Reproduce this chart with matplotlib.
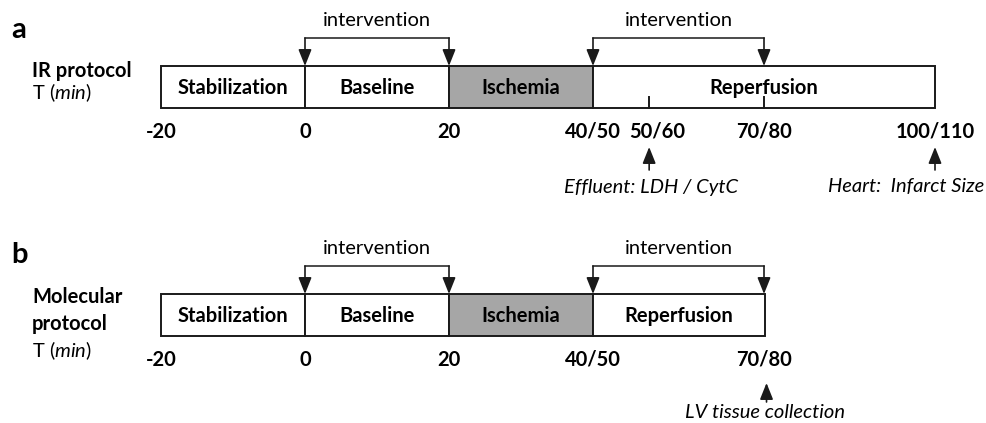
import matplotlib
matplotlib.use("Agg")
import matplotlib.pyplot as plt
from matplotlib.patches import Rectangle

# ------------------- dados do esquema (tempo em min, eixo esquemático) -------------------
segmentos = ["Stabilization", "Baseline", "Ischemia", "Reperfusion"]

a_limites = [-20, 0, 20, 40, 87.5]
a_ticks = [-20, 0, 20, 40, 47.8, 63.75, 87.5]
a_tick_labels = ["-20", "0", "20", "40/50", "50/60", "70/80", "100/110"]
a_marcas = [47.8, 63.75]
a_intervencoes = [(0, 20), (40, 63.75)]
a_coletas = [47.8, 87.5]
a_coleta_labels = ["Effluent: LDH / CytC", "Heart:  Infarct Size"]

b_limites = [-20, 0, 20, 40, 63.9]
b_ticks = [-20, 0, 20, 40, 63.75]
b_tick_labels = ["-20", "0", "20", "40/50", "70/80"]
b_intervencoes = [(0, 20), (40, 63.75)]
b_coletas = [64.1]
b_coleta_labels = ["LV tissue collection"]
# ------------------------------------------------------------------------------------------

FONTE = ["Lato", "Open Sans", "DejaVu Sans"]
plt.rcParams["font.family"] = FONTE
plt.rcParams["mathtext.fontset"] = "custom"
plt.rcParams["mathtext.rm"] = "Lato"
plt.rcParams["mathtext.it"] = "Lato:italic"

COR_LINHA = "#1a1a1a"
COR_ISQ = "#a6a6a6"
FS = 14.5

fig = plt.figure(figsize=(9.87, 4.23), dpi=100)
ax = fig.add_axes([0, 0, 1, 1])
# eixo x: 7.2 px por minuto esquemático, -20 em x=161 px ; eixo y em pixels da figura
ax.set_xlim(-20 - 161 / 7.2, -20 + (987 - 161) / 7.2)
ax.set_ylim(423, 0)
ax.axis("off")


def seta(x, y_de, y_ate, lw=1.2):
    ax.annotate("", xy=(x, y_ate), xytext=(x, y_de),
                arrowprops=dict(arrowstyle="-|>,head_length=1.0,head_width=0.4",
                                mutation_scale=10, lw=lw, color=COR_LINHA,
                                shrinkA=0, shrinkB=0))


def painel(dy, limites, ticks, tick_labels, intervencoes, coletas, coleta_labels,
           marcas=(), y_seta=(170, 147), y_coleta=187, coleta_dx=None):
    topo, base = 66 + dy, 108 + dy
    for i, nome in enumerate(segmentos):
        x0, x1 = limites[i], limites[i + 1]
        cor = COR_ISQ if nome == "Ischemia" else "white"
        ax.add_patch(Rectangle((x0, topo), x1 - x0, base - topo, facecolor=cor,
                               edgecolor=COR_LINHA, lw=1.4, zorder=2))
        ax.text((x0 + x1) / 2, (topo + base) / 2 + 1, nome, ha="center", va="center",
                fontsize=FS, fontweight="bold", zorder=3)
    for m in marcas:
        ax.plot([m, m], [base, base - 11], color=COR_LINHA, lw=1.4, zorder=3)
    for t, lab in zip(ticks, tick_labels):
        dx = 8 / 7.2 if lab == "50/60" else 0
        ax.text(t + dx, 132 + dy, lab, ha="center", va="center", fontsize=FS,
                fontweight="bold")
    for x0, x1 in intervencoes:
        yb = 38 + dy
        ax.plot([x0, x1], [yb, yb], color=COR_LINHA, lw=1.1, zorder=3)
        seta(x0, yb, topo)
        seta(x1, yb, topo)
        ax.text((x0 + x1) / 2, 20 + dy, "intervention", ha="center", va="center",
                fontsize=FS)
    for k, (x, lab) in enumerate(zip(coletas, coleta_labels)):
        seta(x, y_seta[0] + dy, y_seta[1] + dy)
        dx = coleta_dx[k] / 7.2 if coleta_dx else 0
        ax.text(x + dx, y_coleta + dy, lab, ha="center", va="center", fontsize=FS,
                style="italic")


painel(0, a_limites, a_ticks, a_tick_labels, a_intervencoes, a_coletas,
       a_coleta_labels, marcas=a_marcas, coleta_dx=[2, -29])
painel(228, b_limites, b_ticks, b_tick_labels, b_intervencoes, b_coletas,
       b_coleta_labels, y_seta=(174, 155), y_coleta=185, coleta_dx=[-2])

# rótulos dos painéis
ax.text(-20 - 150 / 7.2, 30, "a", ha="left", va="center", fontsize=21, fontweight="bold")
ax.text(-20 - 150 / 7.2, 255, "b", ha="left", va="center", fontsize=21, fontweight="bold")

x_lab = -20 - 129 / 7.2
ax.text(x_lab, 71, "IR protocol", ha="left", va="center", fontsize=FS, fontweight="bold")
ax.text(x_lab, 93, r"T ($\mathit{min}$)", ha="left", va="center", fontsize=FS)
ax.text(x_lab, 297, "Molecular", ha="left", va="center", fontsize=FS, fontweight="bold")
ax.text(x_lab, 324, "protocol", ha="left", va="center", fontsize=FS, fontweight="bold")
ax.text(x_lab, 351, r"T ($\mathit{min}$)", ha="left", va="center", fontsize=FS)

fig.savefig("out.png", dpi=100)
